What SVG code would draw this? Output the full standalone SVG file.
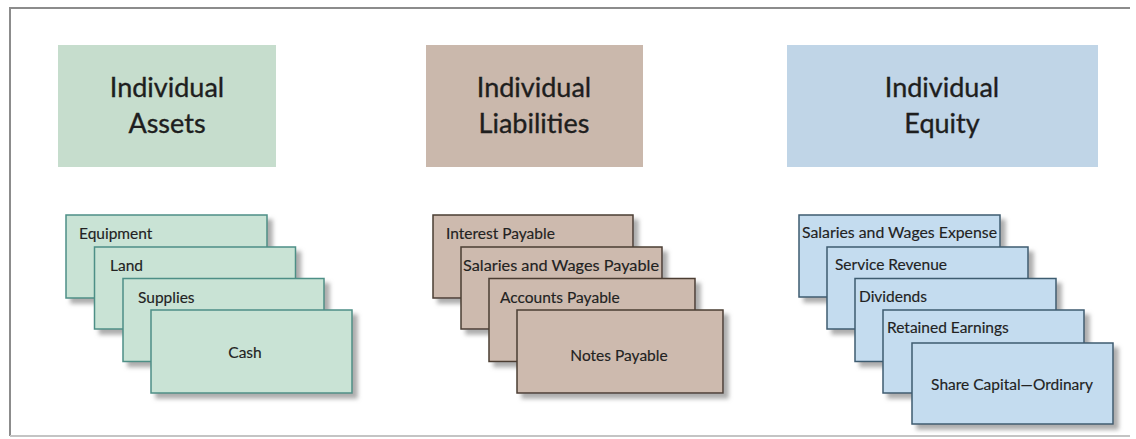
<svg xmlns="http://www.w3.org/2000/svg" width="1136" height="439" viewBox="0 0 1136 439">
  <defs>
    <filter id="shadow" x="-10%" y="-10%" width="130%" height="140%">
      <feDropShadow dx="5" dy="5" stdDeviation="2" flood-color="#8a8a8a" flood-opacity="0.7"/>
    </filter>
    <style>
      .frame { fill: none; stroke: #8c8c8c; stroke-width: 2; }
      .frame-low { fill: none; stroke: #c4c4c4; stroke-width: 2; }
      .head { font-family: Lato, "Open Sans", sans-serif; font-size: 27px; fill: #1e1e1e; stroke: #1e1e1e; stroke-width: 0.35; text-anchor: middle; }
      .lbl { font-family: Lato, "Open Sans", sans-serif; font-size: 15.5px; fill: #222222; stroke: #222222; stroke-width: 0.15; }
      .mid { text-anchor: middle; }
      .h-asset { fill: #c6ddcd; }
      .h-liab { fill: #cab8ac; }
      .h-eq { fill: #c0d5e7; }
      .c-asset { fill: #c9e3d5; stroke: #4d8f86; stroke-width: 1.5; filter: url(#shadow); }
      .c-liab { fill: #cdbaae; stroke: #4b3d33; stroke-width: 1.5; filter: url(#shadow); }
      .c-eq { fill: #c4dcef; stroke: #3d5b70; stroke-width: 1.5; filter: url(#shadow); }
    </style>
  </defs>

  <rect width="1136" height="439" fill="#ffffff"/>

  <!-- outer frame: top and left edges, lighter bottom edge -->
  <path class="frame" d="M1130,8 H10 V436"/>
  <path class="frame-low" d="M10,436 H1130"/>

  <!-- category headers -->
  <g id="header-assets">
    <rect class="h-asset" x="58" y="45" width="218" height="122"/>
    <text class="head" x="167" y="97">Individual</text>
    <text class="head" x="167" y="133">Assets</text>
  </g>
  <g id="header-liabilities">
    <rect class="h-liab" x="426" y="45" width="217" height="122"/>
    <text class="head" x="534" y="97">Individual</text>
    <text class="head" x="534" y="133">Liabilities</text>
  </g>
  <g id="header-equity">
    <rect class="h-eq" x="787" y="45" width="311" height="122"/>
    <text class="head" x="942" y="97">Individual</text>
    <text class="head" x="942" y="133">Equity</text>
  </g>

  <!-- asset account cards -->
  <g id="card-equipment">
    <rect class="c-asset" x="66" y="215" width="201" height="83"/>
    <text class="lbl" x="79" y="239">Equipment</text>
  </g>
  <g id="card-land">
    <rect class="c-asset" x="94.5" y="247" width="201" height="82"/>
    <text class="lbl" x="110" y="271">Land</text>
  </g>
  <g id="card-supplies">
    <rect class="c-asset" x="123" y="278.5" width="201" height="83"/>
    <text class="lbl" x="138" y="303">Supplies</text>
  </g>
  <g id="card-cash">
    <rect class="c-asset" x="151" y="310" width="201" height="83"/>
    <text class="lbl mid" x="245" y="358">Cash</text>
  </g>

  <!-- liability account cards -->
  <g id="card-interest-payable">
    <rect class="c-liab" x="433" y="215" width="200" height="83"/>
    <text class="lbl" x="446" y="239">Interest Payable</text>
  </g>
  <g id="card-salaries-payable">
    <rect class="c-liab" x="461" y="247" width="201" height="82"/>
    <text class="lbl" x="463" y="271" textLength="196" lengthAdjust="spacingAndGlyphs">Salaries and Wages Payable</text>
  </g>
  <g id="card-accounts-payable">
    <rect class="c-liab" x="489" y="278.5" width="206" height="83"/>
    <text class="lbl" x="500" y="303">Accounts Payable</text>
  </g>
  <g id="card-notes-payable">
    <rect class="c-liab" x="517" y="310" width="206" height="83"/>
    <text class="lbl mid" x="619" y="361">Notes Payable</text>
  </g>

  <!-- equity account cards -->
  <g id="card-salaries-expense">
    <rect class="c-eq" x="799" y="215" width="201" height="82"/>
    <text class="lbl" x="802" y="238" textLength="195" lengthAdjust="spacingAndGlyphs">Salaries and Wages Expense</text>
  </g>
  <g id="card-service-revenue">
    <rect class="c-eq" x="827" y="247" width="201" height="82"/>
    <text class="lbl" x="835" y="270">Service Revenue</text>
  </g>
  <g id="card-dividends">
    <rect class="c-eq" x="855" y="278.5" width="201" height="83"/>
    <text class="lbl" x="859" y="302">Dividends</text>
  </g>
  <g id="card-retained-earnings">
    <rect class="c-eq" x="883" y="310" width="201" height="83"/>
    <text class="lbl" x="887" y="333">Retained Earnings</text>
  </g>
  <g id="card-share-capital">
    <rect class="c-eq" x="912" y="343" width="201" height="81"/>
    <text class="lbl mid" x="1012" y="390">Share Capital—Ordinary</text>
  </g>

  <!-- connectors: none drawn -->
  <g id="connectors"/>
</svg>
